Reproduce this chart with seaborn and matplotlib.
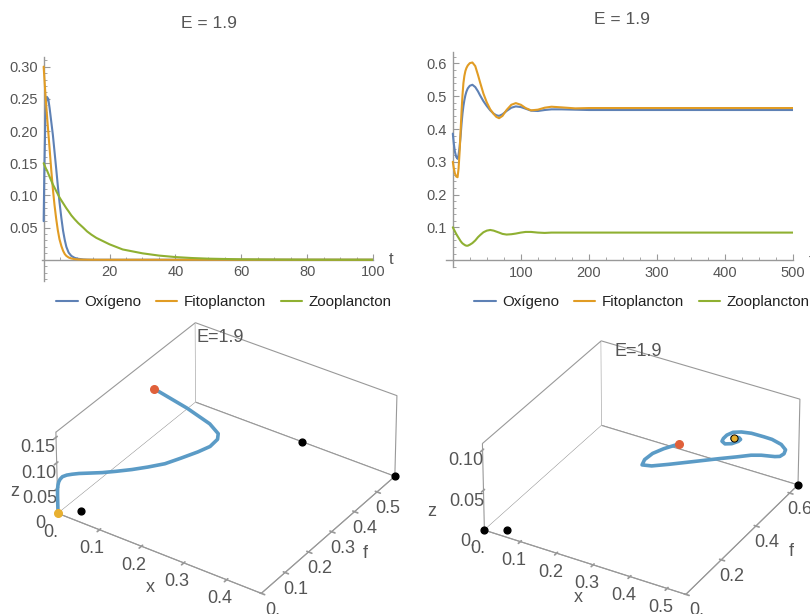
import matplotlib
matplotlib.use("Agg")
import matplotlib.pyplot as plt
import matplotlib.transforms as mtransforms
from matplotlib.ticker import MultipleLocator, FixedLocator
import pandas as pd
import seaborn as sns

sns.set_theme(style="white")
plt.rcParams["font.family"] = ["Liberation Sans", "DejaVu Sans"]

TITLE_TS = "E = 1.9"
TITLE_3D = "E=1.9"
SERIES = ["Oxígeno", "Fitoplancton", "Zooplancton"]
COLORS = ["#5e81b5", "#e19c24", "#8fb032"]
TRAJ_COLOR = "#5b9bc6"
START_COLOR = "#e0603a"
END_COLOR = "#e8b030"
GRAY = "#999999"
LABEL_GRAY = "#555555"

# ---- short run (t in [0, 100]): collapse to the trivial state ----
t_short = [0, 0.25, 0.5, 0.75, 1.0, 1.4, 1.8, 2.3, 2.8, 3.3, 3.8, 4.3, 4.8, 5.4,
           5.9, 6.4, 6.9, 7.6, 8.4, 9.4, 10.5, 12, 13.2, 14.5, 16, 18, 20, 22,
           24, 27, 30, 35, 40, 45, 50, 60, 70, 80, 100]
oxi_short = [0.06, 0.15, 0.215, 0.245, 0.253, 0.250, 0.236, 0.215, 0.194, 0.168,
             0.142, 0.115, 0.090, 0.064, 0.045, 0.031, 0.020, 0.011, 0.006, 0.003,
             0.0015, 0.0005, 0.0002, 0.0001, 0, 0, 0, 0, 0, 0, 0, 0, 0, 0, 0, 0,
             0, 0, 0]
fito_short = [0.300, 0.280, 0.260, 0.242, 0.225, 0.199, 0.173, 0.140, 0.110, 0.085,
              0.064, 0.046, 0.032, 0.021, 0.014, 0.009, 0.006, 0.0035, 0.002, 0.001,
              0.0005, 0.0002, 0.0001, 0, 0, 0, 0, 0, 0, 0, 0, 0, 0, 0, 0, 0, 0, 0, 0]
zoo_short = [0.150, 0.147, 0.144, 0.141, 0.139, 0.134, 0.129, 0.123, 0.117, 0.112,
             0.107, 0.102, 0.097, 0.092, 0.088, 0.084, 0.080, 0.075, 0.069, 0.063,
             0.057, 0.050, 0.044, 0.039, 0.034, 0.029, 0.024, 0.020, 0.016, 0.013,
             0.010, 0.0065, 0.0042, 0.0027, 0.0017, 0.0007, 0.0003, 0.0001, 0.0]

# ---- long run (t in [0, 500]): damped oscillation to coexistence ----
t_long = [0, 1.5, 3, 5, 7, 8.5, 10, 11.5, 13, 14.3, 15.6, 17, 18.5, 20, 22, 25,
          28.8, 33, 37, 40, 45, 50, 55, 60, 64, 68, 73, 79, 86, 92.6, 100, 107,
          115, 125, 135, 145, 160, 180, 200, 250, 300, 400, 500]
oxi_long = [0.386, 0.355, 0.332, 0.315, 0.309, 0.322, 0.345, 0.380, 0.420, 0.448,
            0.470, 0.488, 0.503, 0.514, 0.524, 0.532, 0.535, 0.528, 0.515, 0.503,
            0.485, 0.470, 0.457, 0.447, 0.442, 0.440, 0.445, 0.455, 0.465, 0.469,
            0.467, 0.462, 0.456, 0.455, 0.458, 0.460, 0.460, 0.459, 0.458, 0.458,
            0.458, 0.458, 0.458]
fito_long = [0.300, 0.280, 0.265, 0.255, 0.253, 0.280, 0.330, 0.395, 0.460, 0.505,
             0.540, 0.562, 0.577, 0.586, 0.594, 0.601, 0.603, 0.592, 0.565, 0.543,
             0.508, 0.481, 0.460, 0.446, 0.437, 0.433, 0.440, 0.458, 0.474, 0.479,
             0.474, 0.464, 0.457, 0.459, 0.465, 0.468, 0.466, 0.463, 0.464, 0.464,
             0.464, 0.464, 0.464]
zoo_long = [0.100, 0.094, 0.088, 0.080, 0.073, 0.068, 0.063, 0.058, 0.054, 0.051,
            0.049, 0.047, 0.045, 0.044, 0.044, 0.047, 0.052, 0.060, 0.070, 0.076,
            0.085, 0.090, 0.092, 0.090, 0.087, 0.084, 0.080, 0.078, 0.079, 0.081,
            0.084, 0.086, 0.086, 0.084, 0.083, 0.084, 0.084, 0.084, 0.084, 0.084,
            0.084, 0.084, 0.084]

# equilibrium markers shown in the phase portraits (x, f, z)
eq_left_x = [0.033, 0.26, 0.48]
eq_left_f = [0.040, 0.58, 0.58]
eq_left_z = [0.0, 0.0, 0.0]
eq_right_x = [0.0, 0.046, 0.55, 0.458]
eq_right_f = [0.0, 0.035, 0.65, 0.464]
eq_right_z = [0.0, 0.0, 0.0, 0.084]

W, H = 810.0, 614.0
fig = plt.figure(figsize=(W / 100, H / 100), dpi=100)
fig.patch.set_facecolor("white")


def px_box(left, top, right, bottom):
    return [left / W, 1 - bottom / H, (right - left) / W, (bottom - top) / H]


def px_square(cx, cy, side):
    return px_box(cx - side / 2, cy - side / 2, cx + side / 2, cy + side / 2)


def fig_text(x, y, s, **kw):
    fig.text(x / W, 1 - y / H, s, ha="center", va="center", color=LABEL_GRAY, **kw)


def time_panel(rect, t, oxi, fito, zoo, xlim, ylim, xmin_, ymin_,
               xticks, yticks, yfmt, title_xy, legend_xy):
    ax = fig.add_axes(rect)
    df = pd.DataFrame({"t": t * 3,
                       "v": list(oxi) + list(fito) + list(zoo),
                       "s": [SERIES[0]] * len(t) + [SERIES[1]] * len(t) + [SERIES[2]] * len(t)})
    sns.lineplot(data=df, x="t", y="v", hue="s", palette=COLORS, hue_order=SERIES,
                 estimator=None, sort=False, lw=1.5, ax=ax, zorder=3)
    ax.set_xlim(*xlim)
    ax.set_ylim(*ylim)
    ax.set_xlabel("")
    ax.set_ylabel("")
    for side in ("top", "right"):
        ax.spines[side].set_visible(False)
    for side in ("left", "bottom"):
        ax.spines[side].set_position(("data", 0))
        ax.spines[side].set_color(GRAY)
        ax.spines[side].set_linewidth(1.0)
    ax.xaxis.set_major_locator(FixedLocator(xticks))
    ax.xaxis.set_minor_locator(MultipleLocator(xmin_))
    ax.yaxis.set_major_locator(FixedLocator(yticks))
    ax.yaxis.set_minor_locator(MultipleLocator(ymin_))
    ax.set_yticklabels([yfmt.format(v) for v in yticks])
    ax.tick_params(which="both", direction="in", color=GRAY, labelcolor=LABEL_GRAY,
                   labelsize=10.5, bottom=True, left=True)
    ax.tick_params(which="major", length=4, width=0.8, pad=4)
    ax.tick_params(which="minor", length=2, width=0.6)
    ax.patch.set_alpha(0)
    trans = mtransforms.blended_transform_factory(ax.transAxes, ax.transData)
    ax.annotate("t", xy=(1.0, 0), xycoords=trans, xytext=(16, 0),
                textcoords="offset pixels", ha="left", va="center",
                fontsize=12, color=LABEL_GRAY)
    fig_text(*title_xy, TITLE_TS, fontsize=12.5)
    leg = ax.legend(loc="center", bbox_to_anchor=(legend_xy[0] / W, 1 - legend_xy[1] / H),
                    bbox_transform=fig.transFigure, ncol=3, frameon=False,
                    handlelength=1.4, handletextpad=0.45, columnspacing=0.95,
                    fontsize=10.9)
    for txt in leg.get_texts():
        txt.set_color("#222222")
    return ax


time_panel(px_box(42, 57, 373, 281), t_short, oxi_short, fito_short, zoo_short,
           (-0.5, 100), (-0.033, 0.315), 5, 0.01,
           [20, 40, 60, 80, 100], [0.05, 0.10, 0.15, 0.20, 0.25, 0.30], "{:.2f}",
           (209, 24), (224, 302))
time_panel(px_box(446, 52, 793, 267), t_long, oxi_long, fito_long, zoo_long,
           (-10, 500), (-0.021, 0.635), 25, 0.02,
           [100, 200, 300, 400, 500], [0.1, 0.2, 0.3, 0.4, 0.5, 0.6], "{:.1f}",
           (622, 19), (642, 302))


def phase_panel(rect, xs, fs, zs, lims, ticks, labels, eqx, eqf, eqz, end_marker,
                title_xy, view, zoom, zaspect, axis_label_xy):
    ax = fig.add_axes(rect, projection="3d")
    ax.computed_zorder = False
    line, = ax.plot(xs, fs, zs, color=TRAJ_COLOR, lw=2.6, solid_capstyle="round",
                    zorder=3)
    line.set_clip_on(False)
    pts = [ax.scatter(eqx, eqf, eqz, color="black", s=24, depthshade=False, zorder=4),
           ax.scatter([xs[0]], [fs[0]], [zs[0]], color=START_COLOR, s=30,
                      depthshade=False, zorder=5),
           ax.scatter([xs[-1]], [fs[-1]], [zs[-1]], color=END_COLOR, s=end_marker,
                      depthshade=False, zorder=6)]
    for p in pts:
        p.set_clip_on(False)
    ax.set_xlim(*lims[0])
    ax.set_ylim(*lims[1])
    ax.set_zlim(*lims[2])
    ax.set_xticks(ticks[0])
    ax.set_yticks(ticks[1])
    ax.set_zticks(ticks[2])
    ax.set_xticklabels(labels[0])
    ax.set_yticklabels(labels[1])
    ax.set_zticklabels(labels[2])
    ax.zaxis.set_ticks_position("lower")
    ax.grid(False)
    for axis in (ax.xaxis, ax.yaxis, ax.zaxis):
        axis.set_pane_color((1, 1, 1, 1))
        axis.pane.set_edgecolor(GRAY)
        axis.pane.set_linewidth(0.8)
        axis.line.set_color(GRAY)
        axis.line.set_linewidth(0.8)
    ax.tick_params(labelsize=13, labelcolor=LABEL_GRAY, color=GRAY, pad=0)
    ax.set_proj_type("persp", focal_length=2.0)
    ax.set_box_aspect((1, 1, zaspect), zoom=zoom)
    ax.view_init(elev=view[0], azim=view[1])
    ax.patch.set_alpha(0)
    fig_text(*title_xy, TITLE_3D, fontsize=13)
    for name, (lx, ly) in zip("xfz", axis_label_xy):
        fig_text(lx, ly, name, fontsize=13)
    return ax


phase_panel(px_square(222, 460, 405), oxi_short, fito_short, zoo_short,
            [(0, 0.48), (0, 0.58), (0, 0.16)],
            [[0, 0.1, 0.2, 0.3, 0.4], [0, 0.1, 0.2, 0.3, 0.4, 0.5], [0, 0.05, 0.10, 0.15]],
            [["0.", "0.1", "0.2", "0.3", "0.4"], ["0.", "0.1", "0.2", "0.3", "0.4", "0.5"],
             ["0", "0.05", "0.10", "0.15"]],
            eq_left_x, eq_left_f, eq_left_z, 30, (220, 338), (34, -56), 0.86, 0.40,
            [(150, 587), (365, 553), (15, 492)])
phase_panel(px_square(637, 470, 405), oxi_long, fito_long, zoo_long,
            [(0, 0.55), (0, 0.65), (0, 0.108)],
            [[0, 0.1, 0.2, 0.3, 0.4, 0.5], [0, 0.2, 0.4, 0.6], [0, 0.05, 0.10]],
            [["0.", "0.1", "0.2", "0.3", "0.4", "0.5"], ["0.", "0.2", "0.4", "0.6"],
             ["0.", "0.05", "0.10"]],
            eq_right_x, eq_right_f, eq_right_z, 12, (638, 352), (32, -60), 0.82, 0.44,
            [(578, 597), (791, 551), (432, 511)])

fig.savefig("out.png", dpi=100, facecolor="white")
